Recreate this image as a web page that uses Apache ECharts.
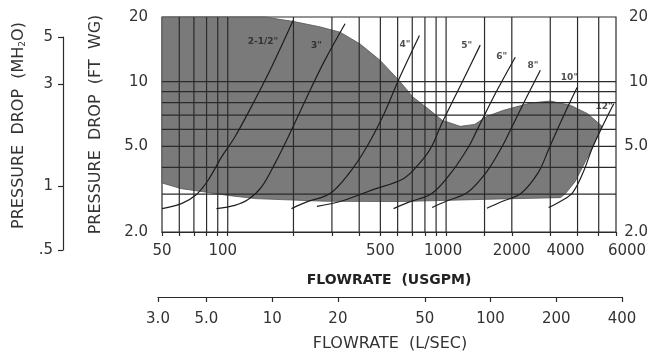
<!DOCTYPE html>
<html><head><meta charset="utf-8">
<script src="https://cdn.jsdelivr.net/npm/echarts@6/dist/echarts.min.js"></script>
<style>html,body{margin:0;padding:0;background:#fff}#c{width:653px;height:354px}</style>
</head><body><div id="c"></div>
<script>
// ---- tick labels ----
const gpmLabels = [50, 100, 500, 1000, 2000, 4000, 6000];
const lpsLabels = [3, 5, 10, 20, 50, 100, 200, 400];
const ftLabels = [2, 5, 10, 20];
const mLabels = [0.5, 1, 3, 5];
// ---- grid lines ----
const gridFlow = [60, 70, 80, 90, 100, 200, 300, 400, 500, 600, 700, 800, 900, 1000, 1500, 2000, 3000, 4000, 5000];
const gridPressure = [3, 4, 5, 6, 7, 8, 9, 10];
// ---- shaded operating region (flow USGPM, pressure ft) ----
const regionFlow = [50, 148, 198, 264, 327, 403, 498, 608, 704, 845, 960, 1160, 1350, 1540, 1830, 2431, 3002, 3709, 4450, 5180, 4450, 3900, 3520, 3337, 1770, 616, 280, 210, 133, 100, 78.5, 61.4, 50];
const regionPressure = [20, 20, 19.1, 18.0, 17.0, 15.0, 12.6, 10.15, 8.5, 7.36, 6.62, 6.2, 6.33, 6.9, 7.36, 7.96, 8.13, 7.77, 7.1, 6.2, 4.47, 3.43, 3.02, 2.89, 2.85, 2.77, 2.78, 2.81, 2.86, 2.96, 3.07, 3.18, 3.38];
// ---- pipe-size curves [flow USGPM, pressure ft] ----
const pipeNames = ['2-1/2"', '3"', '4"', '5"', '6"', '8"', '10"', '12"'];
const pipe2_5 = [[50, 2.57], [61.4, 2.71], [71.9, 2.99], [81.3, 3.48], [93.6, 4.46], [107.8, 5.53], [133, 8.2], [158.8, 11.7], [199.5, 19.3]];
const pipe3 = [[88.8, 2.57], [107.8, 2.66], [124, 2.83], [142.9, 3.24], [164.4, 4.16], [189.2, 5.53], [242.3, 9.45], [278.6, 12.6], [344.6, 18.6]];
const pipe4 = [[196, 2.57], [230, 2.76], [294, 3.02], [363, 3.8], [433, 4.97], [516, 6.98], [605, 10.16], [755, 16.4]];
const pipe5 = [[256, 2.63], [330, 2.78], [460, 3.14], [640, 3.55], [760, 4.2], [850, 4.9], [956, 6.39], [1187, 10], [1433, 14.8]];
const pipe6 = [[575, 2.57], [680, 2.76], [860, 3.02], [1060, 3.8], [1266, 4.97], [1384, 5.94], [1700, 9], [2074, 13]];
const pipe8 = [[863, 2.6], [1000, 2.78], [1250, 3.05], [1530, 3.8], [1800, 4.97], [1968, 5.94], [2300, 8.2], [2702, 11.3]];
const pipe10 = [[1538, 2.58], [1780, 2.76], [2200, 3.02], [2650, 3.8], [2950, 4.85], [3222, 5.94], [3600, 7.6], [3980, 9.4]];
const pipe12 = [[2949, 2.6], [3350, 2.78], [3800, 3.05], [4250, 3.8], [4650, 4.85], [5183, 6.16], [5860, 7.9]];
const pipeData = [pipe2_5, pipe3, pipe4, pipe5, pipe6, pipe8, pipe10, pipe12];
const labelOffsets = [[-15, 21], [-23, 22], [-9, 9], [-8, 1], [-8, -1], [-2, -5], [1, -10], [-1, 3]];

const FONT = 'DejaVu Sans';
const INK = '#2b2b2b';
const region = regionFlow.map((f, i) => [f, regionPressure[i]]);
const gpmShift = {100: [0, 10, 0, 0], 1000: [0, 6, 0, 0], 4000: [0, 24, 0, 0], 6000: [0, 0, 0, 22]};

const chart = echarts.init(document.getElementById('c'), null, {renderer: 'canvas'});
const fmt1 = v => (v < 10 ? Number(v).toFixed(1) : String(Math.round(v)));
const option = {
  animation: false,
  backgroundColor: '#fff',
  textStyle: {fontFamily: FONT},
  grid: [
    {left: 162, right: 37, top: 17, bottom: 122, show: true, borderColor: INK, borderWidth: 1.2, backgroundColor: 'transparent', containLabel: false, outerBoundsMode: 'none'},
    {left: 158, right: 31, top: 296, bottom: 57, containLabel: false, outerBoundsMode: 'none'},
    {left: 63, width: 10, top: 37, bottom: 104, containLabel: false, outerBoundsMode: 'none'}
  ],
  xAxis: [
    {gridIndex: 0, type: 'log', min: 50, max: 6000, logBase: 10,
     axisLine: {show: true, lineStyle: {color: INK, width: 1.2}},
     axisTick: {show: true, customValues: gridFlow.concat([50, 6000]), length: 4, lineStyle: {color: INK, width: 1.2}},
     axisLabel: {customValues: gpmLabels, fontSize: 15, color: '#333', margin: 12, fontFamily: FONT,
       formatter: v => { const r = Math.round(v); return gpmShift[r] ? '{p' + r + '|' + r + '}' : String(r); },
       rich: Object.fromEntries(Object.keys(gpmShift).map(k => ['p' + k, {padding: gpmShift[k], fontSize: 15, color: '#333', fontFamily: FONT}]))},
     splitLine: {show: false}, minorTick: {show: false},
     name: 'FLOWRATE  (USGPM)', nameLocation: 'middle', nameGap: 41, nameMoveOverlap: false,
     nameTextStyle: {fontSize: 14, color: '#222', fontWeight: 'bold', fontFamily: FONT}},
    {gridIndex: 1, type: 'log', min: 3, max: 400, logBase: 10,
     axisLine: {show: true, lineStyle: {color: INK, width: 1.2}},
     axisTick: {show: true, customValues: lpsLabels, length: 5, lineStyle: {color: INK, width: 1.2}},
     axisLabel: {customValues: lpsLabels, fontSize: 15, color: '#333', margin: 15, fontFamily: FONT, formatter: fmt1},
     splitLine: {show: false},
     name: 'FLOWRATE  (L/SEC)', nameLocation: 'middle', nameGap: 39, nameMoveOverlap: false,
     nameTextStyle: {fontSize: 16, color: '#333', fontFamily: FONT}},
    {gridIndex: 2, type: 'value', show: false}
  ],
  yAxis: [
    {gridIndex: 0, type: 'log', min: 2, max: 20, logBase: 10,
     axisLine: {show: false}, axisTick: {show: false}, splitLine: {show: false},
     axisLabel: {customValues: ftLabels, fontSize: 15, color: '#333', margin: 14, fontFamily: FONT, formatter: fmt1},
     name: 'PRESSURE  DROP  (FT  WG)', nameLocation: 'middle', nameRotate: 90, nameGap: 58, nameMoveOverlap: false,
     nameTextStyle: {fontSize: 16, color: '#333', fontFamily: FONT}},
    {gridIndex: 0, type: 'log', min: 2, max: 20, logBase: 10, position: 'right',
     axisLine: {show: false}, axisTick: {show: false}, splitLine: {show: false},
     axisLabel: {customValues: ftLabels, fontSize: 15, color: '#333', margin: 32, align: 'right', fontFamily: FONT, formatter: fmt1}},
    {gridIndex: 1, type: 'value', show: false},
    {gridIndex: 2, type: 'log', min: 0.5, max: 5, logBase: 10, position: 'left',
     axisLine: {show: true, lineStyle: {color: INK, width: 1.2}},
     axisTick: {show: true, customValues: mLabels, length: 5, lineStyle: {color: INK, width: 1.2}},
     splitLine: {show: false},
     axisLabel: {customValues: mLabels, fontSize: 15, color: '#333', margin: 10, fontFamily: FONT,
       formatter: v => (v < 1 ? '.5' : String(Math.round(v)))},
     name: '{t|PRESSURE  DROP  (MH}{s|2}{t|O)}', nameLocation: 'middle', nameRotate: 90, nameGap: 36, nameMoveOverlap: false,
     nameTextStyle: {fontSize: 16, color: '#333', fontFamily: FONT, padding: [0, 0, 0, 36],
       rich: {t: {fontSize: 16, color: '#333', fontFamily: FONT}, s: {fontSize: 9, color: '#333', fontFamily: FONT, verticalAlign: 'bottom', padding: [8, 0, 0, 0]}}}}
  ],
  series: [
    {type: 'custom', xAxisIndex: 0, yAxisIndex: 0, z: 1, silent: true, data: [region[0]],
     renderItem: (params, api) => ({type: 'polygon', shape: {points: region.map(p => api.coord(p))}, style: {fill: '#7a7a7a', stroke: '#555', lineWidth: 0.8}})},
    {type: 'custom', xAxisIndex: 0, yAxisIndex: 0, z: 2, silent: true, data: [region[0]],
     renderItem: (params, api) => {
       const children = [];
       gridFlow.forEach(f => {
         const a = api.coord([f, 20]), b = api.coord([f, 2]);
         children.push({type: 'line', shape: {x1: a[0], y1: a[1], x2: b[0], y2: b[1]}, style: {stroke: INK, lineWidth: 1.2}});
       });
       gridPressure.forEach(p => {
         const a = api.coord([50, p]), b = api.coord([6000, p]);
         children.push({type: 'line', shape: {x1: a[0], y1: a[1], x2: b[0], y2: b[1]}, style: {stroke: INK, lineWidth: 1.2}});
       });
       return {type: 'group', children};
     }},
    ...pipeData.map((d) => ({
      type: 'line', xAxisIndex: 0, yAxisIndex: 0, z: 3, data: d, smooth: 0.35, symbol: 'none', silent: true,
      lineStyle: {color: '#1e1e1e', width: 1.2}
    })),
    {type: 'scatter', xAxisIndex: 0, yAxisIndex: 0, z: 4, symbolSize: 0, silent: true,
     data: pipeData.map((d, i) => ({value: d[d.length - 1], label: {show: true, formatter: pipeNames[i], position: 'inside', offset: labelOffsets[i], align: 'right', fontSize: 9, fontWeight: 'bold', color: '#222', fontFamily: FONT}}))}
  ]
};
chart.setOption(option);
</script></body></html>
